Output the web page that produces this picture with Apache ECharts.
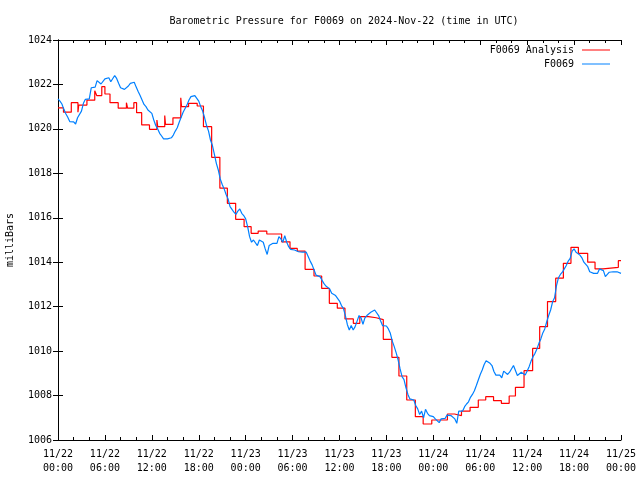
<!DOCTYPE html>
<html>
<head>
<meta charset="utf-8">
<script src="https://cdn.jsdelivr.net/npm/echarts@6/dist/echarts.min.js"></script>
<style>html,body{margin:0;padding:0;background:#fff}#c{width:640px;height:480px}</style>
</head>
<body>
<div id="c"></div>
<script>
// x in hours since 2024-11-22 00:00 UTC
const xTickHours = [0, 6, 12, 18, 24, 30, 36, 42, 48, 54, 60, 66, 72];
const yTicks = [1006, 1008, 1010, 1012, 1014, 1016, 1018, 1020, 1022, 1024];

// F0069 Analysis (step series): change times (h) and held values (mb)
const redTimes = [0, 0.7, 1.7, 2.55, 2.65, 3.7, 4.7, 4.95, 5.6, 6.0, 6.65, 7.7, 8.75, 8.9, 9.7, 10.05,
  10.7, 11.7, 12.65, 12.75, 13.65, 13.75, 14.7, 15.7, 15.8, 16.7, 17.8, 18.6, 19.65, 20.7, 21.66,
  22.72, 23.8, 24.7, 25.6, 26.7, 28.6, 29.67, 30.6, 31.6, 32.74, 33.72, 34.7, 35.72, 36.7, 37.77,
  38.6, 39.7, 40.7, 41.6, 42.7, 43.6, 44.6, 45.7, 46.7, 47.8, 49.8, 50.7, 51.6, 52.7, 53.75, 54.7,
  55.7, 56.7, 57.7, 58.5, 59.6, 60.7, 61.6, 62.6, 63.65, 64.63, 65.6, 66.55, 67.74, 68.68, 69.7,
  71.66, 72];
const redValues = [1020.95, 1020.75, 1021.18, 1020.75, 1021.07, 1021.29, 1021.72, 1021.5, 1021.9, 1021.57,
  1021.18, 1020.93, 1021.18, 1020.93, 1021.18, 1020.73, 1020.18, 1019.98, 1020.4, 1020.1, 1020.6,
  1020.2, 1020.5, 1021.4, 1021.0, 1021.15, 1021.03, 1020.1, 1018.72, 1017.33, 1016.65, 1015.93,
  1015.6, 1015.3, 1015.4, 1015.27, 1014.92, 1014.62, 1014.5, 1013.68, 1013.38, 1012.82, 1012.15,
  1011.93, 1011.45, 1011.25, 1011.55, 1011.5, 1011.42, 1010.53, 1009.72, 1008.88, 1007.8, 1007.05,
  1006.72, 1006.9, 1007.17, 1007.1, 1007.3, 1007.47, 1007.8, 1007.95, 1007.77, 1007.65, 1007.98,
  1008.37, 1009.12, 1010.12, 1011.1, 1012.23, 1013.28, 1013.95, 1014.67, 1014.4, 1014.0, 1013.7,
  1013.77, 1014.07, 1014.07];

// F0069 observations, every 15 minutes from 00:00
const blueStepHours = 0.25;
const blueValues = [
  1021.35, 1021.25, 1021.12, 1020.88, 1020.68, 1020.52, 1020.33, 1020.25, 1020.32, 1020.22, 1020.5, 1020.55,
  1020.8, 1021.15, 1021.33, 1021.27, 1021.35, 1021.85, 1021.93, 1021.88, 1022.17, 1022.1, 1022.02, 1022.05,
  1022.25, 1022.28, 1022.3, 1022.12, 1022.05, 1022.4, 1022.27, 1022.05, 1021.85, 1021.9, 1021.78, 1021.75,
  1021.93, 1022.05, 1021.98, 1022.1, 1021.88, 1021.68, 1021.5, 1021.3, 1021.1, 1021.0, 1020.85, 1020.78,
  1020.7, 1020.4, 1020.15, 1020.0, 1019.8, 1019.68, 1019.55, 1019.47, 1019.55, 1019.52, 1019.6, 1019.72,
  1019.9, 1020.05, 1020.3, 1020.52, 1020.75, 1020.92, 1021.08, 1021.3, 1021.45, 1021.52, 1021.5, 1021.42,
  1021.25, 1021.0, 1020.8, 1020.5, 1020.15, 1019.9, 1019.5, 1019.25, 1018.85, 1018.45, 1018.15, 1017.75,
  1017.5, 1017.3, 1017.05, 1016.85, 1016.5, 1016.38, 1016.25, 1016.15, 1016.3, 1016.4, 1016.2, 1016.1,
  1015.95, 1015.6, 1015.15, 1014.9, 1015.0, 1015.0, 1014.75, 1015.0, 1014.95, 1014.9, 1014.6, 1014.35,
  1014.75, 1014.82, 1014.85, 1014.8, 1014.85, 1015.15, 1015.05, 1014.9, 1015.2, 1014.9, 1014.7, 1014.58,
  1014.6, 1014.55, 1014.47, 1014.47, 1014.42, 1014.45, 1014.42, 1014.45, 1014.4, 1014.05, 1013.88, 1013.65,
  1013.42, 1013.38, 1013.35, 1013.2, 1013.05, 1012.93, 1012.85, 1012.8, 1012.6, 1012.65, 1012.5, 1012.45,
  1012.25, 1012.05, 1011.92, 1011.6, 1011.2, 1010.95, 1011.15, 1010.95, 1011.1, 1011.35, 1011.6, 1011.5,
  1011.2, 1011.5, 1011.6, 1011.68, 1011.75, 1011.78, 1011.85, 1011.88, 1011.6, 1011.37, 1011.15, 1011.2,
  1011.13, 1011.0, 1010.8, 1010.45, 1010.2, 1009.92, 1009.6, 1009.2, 1008.85, 1008.72, 1008.35, 1008.05,
  1007.85, 1007.78, 1007.8, 1007.55, 1007.4, 1007.15, 1007.3, 1007.0, 1007.38, 1007.2, 1007.1, 1007.02,
  1007.05, 1006.95, 1006.9, 1006.78, 1006.95, 1006.92, 1006.97, 1007.12, 1007.15, 1007.1, 1007.15, 1006.95,
  1006.75, 1007.3, 1007.25, 1007.3, 1007.5, 1007.62, 1007.72, 1007.92, 1008.05, 1008.22, 1008.45, 1008.7,
  1008.95, 1009.15, 1009.4, 1009.57, 1009.55, 1009.45, 1009.35, 1009.08, 1008.92, 1008.85, 1008.92, 1008.8,
  1009.1, 1009.15, 1008.95, 1009.05, 1009.08, 1009.35, 1009.42, 1008.9, 1008.95, 1009.05, 1009.1, 1008.92,
  1009.1, 1009.3, 1009.55, 1009.75, 1009.9, 1010.1, 1010.35, 1010.55, 1010.82, 1011.0, 1011.32, 1011.6,
  1011.85, 1012.22, 1012.4, 1012.95, 1013.3, 1013.45, 1013.55, 1013.7, 1013.85, 1014.05, 1014.17, 1014.5,
  1014.6, 1014.45, 1014.38, 1014.32, 1014.2, 1014.0, 1013.9, 1013.8, 1013.57, 1013.5, 1013.5, 1013.52,
  1013.5, 1013.7, 1013.7, 1013.62, 1013.35, 1013.32, 1013.55, 1013.57, 1013.57, 1013.5, 1013.57, 1013.55,
  1013.5];

const FONT = 'DejaVu Sans Mono';
const redData = redTimes.map((t, i) => [t, redValues[i]]);
const blueData = blueValues.map((v, i) => [i * blueStepHours, v]);

function xLabel(h) {
  const day = 22 + Math.floor(h / 24);
  const hr = h % 24;
  return '11/' + day + '\n' + (hr < 10 ? '0' : '') + hr + ':00';
}

const xBase = {
  type: 'value', min: xTickHours[0], max: xTickHours[xTickHours.length - 1], interval: 6,
  axisLine: { show: true, lineStyle: { color: '#000', width: 1 } },
  axisTick: { show: true, inside: true, length: 5, lineStyle: { color: '#000' } },
  minorTick: { show: true, splitNumber: 3, length: 3, lineStyle: { color: '#000' } },
  splitLine: { show: false }, minorSplitLine: { show: false }
};
const yBase = {
  type: 'value', min: yTicks[0], max: yTicks[yTicks.length - 1], interval: 2,
  axisLine: { show: true, lineStyle: { color: '#000', width: 1 } },
  axisTick: { show: true, inside: true, length: 5, lineStyle: { color: '#000' } },
  splitLine: { show: false }
};

const chart = echarts.init(document.getElementById('c'), null, { renderer: 'canvas' });
chart.setOption({
  animation: false,
  backgroundColor: '#fff',
  title: {
    text: 'Barometric Pressure for F0069 on 2024-Nov-22 (time in UTC)',
    left: 339, top: 11, textAlign: 'center',
    textStyle: { fontFamily: FONT, fontSize: 10, fontWeight: 'normal', color: '#000' }
  },
  legend: [
    { data: ['F0069 Analysis'], right: 25, top: 40, orient: 'vertical', align: 'right',
      selectedMode: false, icon: 'rect', itemWidth: 28, itemHeight: 1,
      textStyle: { fontFamily: FONT, fontSize: 10, color: '#000', padding: [0, 3, 0, 0] } },
    { data: ['F0069'], right: 25, top: 54, orient: 'vertical', align: 'right',
      selectedMode: false, icon: 'rect', itemWidth: 28, itemHeight: 1,
      textStyle: { fontFamily: FONT, fontSize: 10, color: '#000', padding: [0, 3, 0, 0] } }
  ],
  grid: { left: 58, right: 19, top: 40, bottom: 40, containLabel: false, outerBoundsMode: 'none' },
  xAxis: [
    Object.assign({}, xBase, { position: 'bottom',
      axisLabel: { show: true, margin: 7, lineHeight: 14, color: '#000', fontFamily: FONT, fontSize: 10,
        formatter: xLabel } }),
    Object.assign({}, xBase, { position: 'top', axisLabel: { show: false } })
  ],
  yAxis: [
    Object.assign({}, yBase, { position: 'left',
      name: 'milliBars', nameLocation: 'middle', nameGap: 43,
      nameTextStyle: { fontFamily: FONT, fontSize: 10, color: '#000' },
      axisLabel: { show: true, margin: 6, color: '#000', fontFamily: FONT, fontSize: 10,
        formatter: function (v) { return String(v); } } }),
    Object.assign({}, yBase, { position: 'right', axisLabel: { show: false } })
  ],
  series: [
    { name: 'F0069 Analysis', type: 'line', step: 'end', data: redData, showSymbol: false,
      xAxisIndex: 0, yAxisIndex: 0, color: '#ff0000', lineStyle: { color: '#ff0000', width: 1.2 }, z: 2 },
    { name: 'F0069', type: 'line', data: blueData, showSymbol: false,
      xAxisIndex: 0, yAxisIndex: 0, color: '#0080ff', lineStyle: { color: '#0080ff', width: 1.2 }, z: 3 }
  ]
});
</script>
</body>
</html>
